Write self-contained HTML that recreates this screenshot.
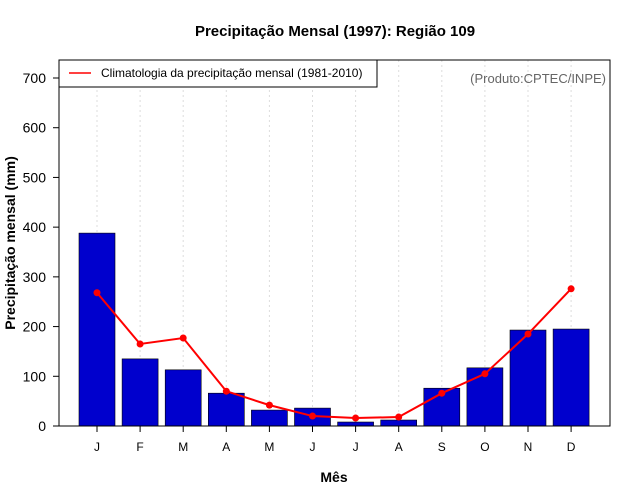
<!DOCTYPE html>
<html><head><meta charset="utf-8"><style>body{margin:0;background:#fff}svg{display:block;font-family:"Liberation Sans",sans-serif}</style></head>
<body>
<svg id="c" width="640" height="500">
<text x="335" y="36" text-anchor="middle" font-size="15" font-weight="bold">Precipitação Mensal (1997): Região 109</text>
<text x="334" y="482" text-anchor="middle" font-size="14" font-weight="bold">Mês</text>
<text transform="translate(15,243) rotate(-90)" text-anchor="middle" font-size="14" font-weight="bold">Precipitação mensal (mm)</text>
<g id="grid"></g><g id="bars"></g><g id="line"></g><g id="axes"></g>
<rect x="59" y="60" width="551" height="366" fill="none" stroke="#000"/>
<g>
<rect x="59" y="60" width="318" height="27" fill="#fff" stroke="#000"/>
<line x1="69" y1="73" x2="91" y2="73" stroke="red" stroke-width="1.5"/>
<text x="101" y="77" font-size="12">Climatologia da precipitação mensal (1981-2010)</text>
</g>
<text x="606" y="83" text-anchor="end" font-size="13" fill="#666">(Produto:CPTEC/INPE)</text>
</svg>
<script>
const months=["J","F","M","A","M","J","J","A","S","O","N","D"];
const rain1997=[388,135,113,66,32,36,8,12,76,117,193,195];
const climatology=[268,165,177,70,42,20,16,18,66,105,185,276];
const yTicks=[0,100,200,300,400,500,600,700];
const NS="http://www.w3.org/2000/svg";
const x=i=>97+i*43.1, y=v=>426-v*(348/700);
function mk(t,a,p){const e=document.createElementNS(NS,t);for(const k in a)e.setAttribute(k,a[k]);document.getElementById(p).appendChild(e);return e;}
months.forEach((m,i)=>{
 const g=mk("line",{x1:x(i),x2:x(i),y1:60,y2:426,stroke:"#ddd","stroke-dasharray":"2,3"},"grid");
 
 
 const b=mk("rect",{x:x(i)-18,y:y(rain1997[i]),width:36,height:426-y(rain1997[i]),fill:"#0000cd",stroke:"#000","stroke-width":0.6},"bars");
 
 
 const t=mk("line",{x1:x(i),x2:x(i),y1:426,y2:432,stroke:"#000"},"axes");
 
 
 const l=mk("text",{x:x(i),y:451,"text-anchor":"middle","font-size":12},"axes");l.textContent=m;
 
 
});
const p=mk("polyline",{points:climatology.map((v,i)=>x(i)+","+y(v)).join(" "),fill:"none",stroke:"red","stroke-width":2},"line");


climatology.forEach((v,i)=>{const c=mk("circle",{cx:x(i),cy:y(v),r:3.5,fill:"red"},"line");
 
 });
yTicks.forEach(v=>{
 const t=mk("line",{x1:53,x2:59,y1:y(v),y2:y(v),stroke:"#000"},"axes");
 
 
 const l=mk("text",{x:46,y:y(v)+5,"text-anchor":"end","font-size":14},"axes");l.textContent=v;
 
 
});
</script>
</body></html>
